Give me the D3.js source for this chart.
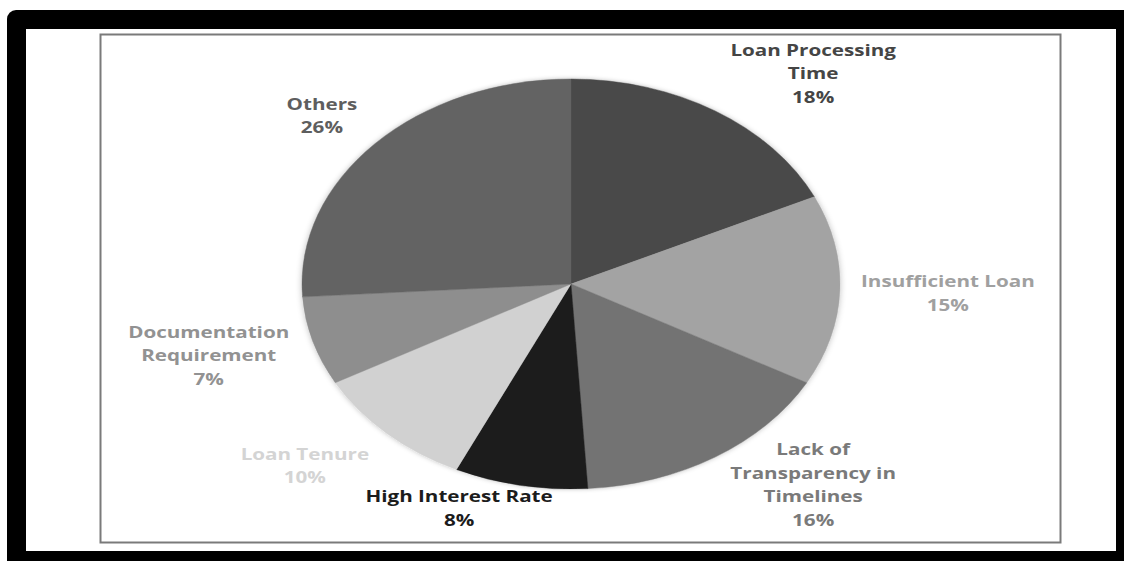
<!DOCTYPE html>
<html>
<head>
<meta charset="utf-8">
<script src="https://cdn.jsdelivr.net/npm/d3@7"></script>
<style>
  html, body { margin: 0; padding: 0; background: #ffffff; }
  #pie-container { width: 1124px; height: 561px; overflow: hidden; }
</style>
</head>
<body>
<div id="pie-container"></div>
<script>
// data, clockwise from 12 o'clock
const categories = [
  "Loan Processing Time",
  "Insufficient Loan",
  "Lack of Transparency in Timelines",
  "High Interest Rate",
  "Loan Tenure",
  "Documentation Requirement",
  "Others",
];
const values = [18, 15, 16, 8, 10, 7, 26];
// how each label is broken into lines
const labelLines = [
  ["Loan Processing", "Time"],
  ["Insufficient Loan"],
  ["Lack of", "Transparency in", "Timelines"],
  ["High Interest Rate"],
  ["Loan Tenure"],
  ["Documentation", "Requirement"],
  ["Others"],
];

const sliceColors = ["#484848", "#a3a3a3", "#737373", "#1c1c1c", "#d1d1d1", "#8e8e8e", "#646464"];
const labelColors = ["#454545", "#a0a0a0", "#7a7a7a", "#1c1c1c", "#d4d4d4", "#929292", "#5e5e5e"];

// label offsets from the slice's outer edge point (x, y of label block centre)
const labelOffsets = [
  [98, -37.5],
  [108, 2.5],
  [98, 27.5],
  [-61.5, 22.5],
  [-82, 32],
  [-104, 14],
  [-53, -28],
];

const width = 1124;
const height = 561;
const cx = 571;
const cy = 284;
const rx = 269;
const ry = 205;
const lineHeight = 23.5;
// the source image is stretched sideways, so is its text
const textStretch = 1.25;

function drawChart() {
  d3.select("#pie-container").select("svg").remove();

  const svg = d3
    .select("#pie-container")
    .append("svg")
    .attr("width", width)
    .attr("height", height);

  const defs = svg.append("defs");
  const glow = defs.append("filter").attr("id", "glow")
    .attr("x", "-10%").attr("y", "-10%").attr("width", "120%").attr("height", "120%");
  glow.append("feGaussianBlur").attr("in", "SourceAlpha").attr("stdDeviation", 3).attr("result", "b");
  glow.append("feFlood").attr("flood-color", "#000").attr("flood-opacity", 0.25);
  glow.append("feComposite").attr("in2", "b").attr("operator", "in").attr("result", "s");
  const merge = glow.append("feMerge");
  merge.append("feMergeNode").attr("in", "s");
  merge.append("feMergeNode").attr("in", "SourceGraphic");

  // black frame
  svg.append("rect")
    .attr("x", 7).attr("y", 10)
    .attr("width", width + 20).attr("height", height + 20)
    .attr("rx", 9)
    .style("fill", "#000");
  svg.append("rect")
    .attr("x", 26).attr("y", 29)
    .attr("width", 1116 - 26).attr("height", 551 - 29)
    .style("fill", "#ffffff");

  // chart area border
  svg.append("rect")
    .attr("x", 100.5).attr("y", 34.5)
    .attr("width", 960).attr("height", 508)
    .style("fill", "#ffffff")
    .style("stroke", "#7a7a7a")
    .style("stroke-width", 2);

  const pieGenerator = d3.pie().sort(null).value((d) => d.value);
  const data = categories.map((c, i) => ({ label: c, value: values[i], idx: i }));
  const arcs = pieGenerator(data);

  const arcGenerator = d3.arc().innerRadius(0).outerRadius(rx);

  // pie is squashed vertically
  const g = svg.append("g")
    .attr("transform", `translate(${cx}, ${cy}) scale(1, ${ry / rx})`)
    .attr("filter", "url(#glow)");

  g.selectAll("path")
    .data(arcs)
    .enter()
    .append("path")
    .attr("d", arcGenerator)
    .style("fill", (d) => sliceColors[d.data.idx])
    .style("stroke", (d) => sliceColors[d.data.idx])
    .style("stroke-width", 0.5);

  // labels
  const labels = svg.append("g");
  arcs.forEach((d) => {
    const i = d.data.idx;
    const mid = (d.startAngle + d.endAngle) / 2;
    const ex = cx + rx * Math.sin(mid);
    const ey = cy - ry * Math.cos(mid);
    const lx = ex + labelOffsets[i][0];
    const ly = ey + labelOffsets[i][1];
    const lines = labelLines[i].concat([d.data.value + "%"]);
    const top = ly - ((lines.length - 1) * lineHeight) / 2;
    const t = labels.append("text")
      .attr("transform", `translate(${lx}, 0) scale(${textStretch}, 1)`)
      .attr("text-anchor", "middle")
      .style("font-family", "'Open Sans', sans-serif")
      .style("font-weight", "bold")
      .style("font-size", "16.5px")
      .style("fill", labelColors[i]);
    lines.forEach((line, k) => {
      t.append("tspan")
        .attr("x", 0)
        .attr("y", top + k * lineHeight + 6)
        .text(line);
    });
  });
}

drawChart();
</script>
</body>
</html>
